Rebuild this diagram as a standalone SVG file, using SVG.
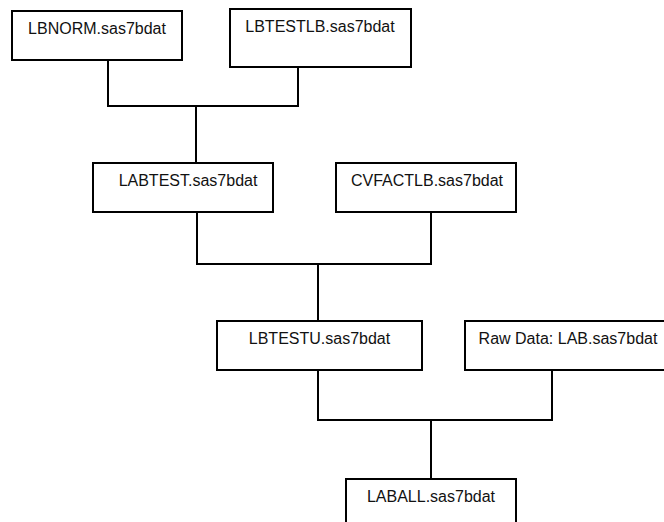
<svg xmlns="http://www.w3.org/2000/svg" width="664" height="522" viewBox="0 0 664 522">
<style>
.box{fill:#fff;stroke:#000;stroke-width:2}
.lbl{font-family:"Liberation Sans",Arial,sans-serif;font-size:16px;fill:#111;text-anchor:middle}
.conn{fill:none;stroke:#000;stroke-width:2}
</style>
<rect width="664" height="522" fill="#fff"/>
<g id="connectors">
<path class="conn" d="M108,60 V106 H298 V67 M196,106 V163"/>
<path class="conn" d="M197,212 V264 H431 V212 M318,264 V321"/>
<path class="conn" d="M318,370 V420 H552 V370 M431,420 V479"/>
</g>
<g id="lbnorm"><rect class="box" x="12" y="11" width="170" height="49"/><text class="lbl" x="97" y="34">LBNORM.sas7bdat</text></g>
<g id="lbtestlb"><rect class="box" x="230" y="9" width="181" height="58"/><text class="lbl" x="320" y="32">LBTESTLB.sas7bdat</text></g>
<g id="labtest"><rect class="box" x="93" y="163" width="180" height="49"/><text class="lbl" x="188" y="186">LABTEST.sas7bdat</text></g>
<g id="cvfactlb"><rect class="box" x="336" y="163" width="180" height="49"/><text class="lbl" x="427" y="186">CVFACTLB.sas7bdat</text></g>
<g id="lbtestu"><rect class="box" x="217" y="321" width="205" height="49"/><text class="lbl" x="319.5" y="344">LBTESTU.sas7bdat</text></g>
<g id="rawdata"><rect class="box" x="465" y="321" width="205" height="49"/><text class="lbl" x="568" y="344">Raw Data: LAB.sas7bdat</text></g>
<g id="laball"><rect class="box" x="346" y="479" width="170" height="50"/><text class="lbl" x="431" y="502">LABALL.sas7bdat</text></g>
</svg>
